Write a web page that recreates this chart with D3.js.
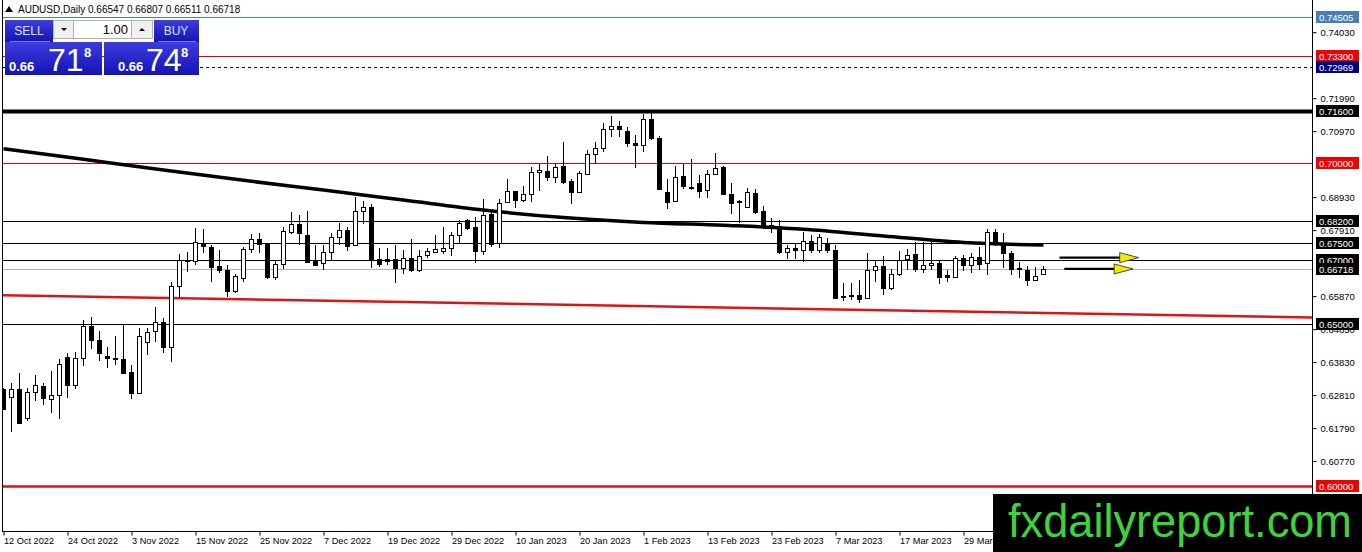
<!DOCTYPE html>
<html>
<head>
<meta charset="utf-8">
<script src="https://cdn.jsdelivr.net/npm/d3@7.9.0/dist/d3.min.js"></script>
<style>
html, body { margin: 0; padding: 0; background: #fff; overflow: hidden; }
svg { display: block; font-family: "Liberation Sans", Arial, sans-serif; }
</style>
</head>
<body>
<svg id="chart" width="1362" height="552"></svg>
<script>
// AUDUSD daily candles, 12 Oct 2022 onwards
const opens = [
  .6300,.6275,.6300,.6210,.6291,.6309,.6269,.6281,.6399,.6312,
  .6396,.6495,.6451,.6402,.6396,.6393,.6353,.6288,.6445,.6479,
  .6507,.6430,.6618,.6699,.6697,.6751,.6739,.6680,.6668,.6603,
  .6643,.6733,.6764,.6748,.6646,.6686,.6785,.6810,.6776,.6699,
  .6689,.6723,.6770,.6791,.6745,.6850,.6862,.6702,.6702,.6702,
  .6674,.6705,.6668,.6714,.6723,.6726,.6736,.6776,.6822,.6801,
  .6726,.6841,.6751,.6878,.6912,.6884,.6903,.6971,.6974,.6955,
  .6989,.6943,.6909,.6964,.7026,.7045,.7103,.7113,.7097,.7060,
  .7054,.7134,.7076,.6909,.6881,.6958,.6922,.6936,.6915,.6964,
  .6986,.6903,.6881,.6862,.6906,.6850,.6807,.6804,.6723,.6736,
  .6730,.6757,.6730,.6748,.6730,.6587,.6590,.6590,.6581,.6668,
  .6680,.6612,.6655,.6702,.6717,.6671,.6683,.6689,.6652,.6646,
  .6705,.6683,.6708,.6689,.6785,.6751,.6720,.6674,.6668,.6637,
  .66547];
const highs = [
  .6303,.6319,.6349,.6303,.6343,.6319,.6356,.6393,.6411,.6414,
  .6513,.6523,.6479,.6430,.6464,.6498,.6374,.6489,.6489,.6553,
  .6519,.6631,.6717,.6723,.6798,.6794,.6745,.6730,.6683,.6655,
  .6739,.6779,.6782,.6750,.6699,.6801,.6847,.6838,.6850,.6745,
  .6745,.6782,.6813,.6801,.6893,.6881,.6872,.6736,.6736,.6745,
  .6730,.6764,.6730,.6736,.6776,.6801,.6785,.6822,.6825,.6832,
  .6887,.6850,.6887,.6949,.6913,.6927,.6986,.6995,.7020,.6998,
  .7063,.6949,.6974,.7039,.7063,.7122,.7144,.7128,.7110,.7085,
  .7150,.7153,.7082,.6949,.6989,.6995,.7011,.6961,.6977,.7029,
  .6989,.6936,.6884,.6921,.6918,.6865,.6828,.6822,.6745,.6751,
  .6785,.6776,.6779,.6767,.6745,.6628,.6628,.6637,.6720,.6696,
  .6711,.6671,.6726,.6733,.6754,.6754,.6754,.6699,.6668,.6711,
  .6714,.6720,.6739,.6794,.6794,.6782,.6726,.6692,.6680,.6677,
  .66807];
const lows = [
  .6235,.6167,.6194,.6201,.6263,.6251,.6226,.6207,.6272,.6300,
  .6371,.6424,.6387,.6365,.6374,.6346,.6269,.6285,.6405,.6445,
  .6411,.6383,.6584,.6662,.6683,.6720,.6631,.6658,.6584,.6597,
  .6631,.6720,.6720,.6640,.6637,.6671,.6779,.6745,.6689,.6680,
  .6668,.6699,.6745,.6726,.6742,.6810,.6674,.6677,.6683,.6628,
  .6655,.6662,.6662,.6705,.6720,.6717,.6711,.6751,.6791,.6689,
  .6714,.6739,.6736,.6876,.6859,.6878,.6878,.6912,.6943,.6937,
  .6934,.6871,.6906,.6961,.6995,.7033,.7079,.7079,.7048,.6983,
  .7033,.7069,.6915,.6856,.6878,.6918,.6915,.6890,.6890,.6961,
  .6899,.6841,.6813,.6860,.6841,.6794,.6782,.6717,.6702,.6702,
  .6692,.6720,.6720,.6720,.6578,.6572,.6575,.6566,.6578,.6631,
  .6590,.6606,.6649,.6668,.6662,.6658,.6668,.6625,.6631,.6643,
  .6665,.6658,.6668,.6652,.6742,.6674,.6652,.6643,.6618,.6636,
  .66511];
const closes = [
  .6238,.6300,.6195,.6291,.6312,.6272,.6281,.6377,.6312,.6396,
  .6495,.6451,.6411,.6396,.6393,.6349,.6288,.6464,.6476,.6507,
  .6430,.6618,.6699,.6696,.6754,.6742,.6677,.6668,.6603,.6649,
  .6733,.6764,.6748,.6646,.6686,.6788,.6810,.6782,.6692,.6683,
  .6723,.6770,.6791,.6742,.6850,.6862,.6699,.6686,.6696,.6674,
  .6705,.6668,.6711,.6726,.6733,.6736,.6776,.6813,.6798,.6726,
  .6838,.6748,.6875,.6912,.6884,.6903,.6971,.6977,.6955,.6986,
  .6940,.6909,.6967,.7026,.7045,.7103,.7113,.7103,.7060,.7054,
  .7134,.7076,.6918,.6878,.6955,.6927,.6925,.6912,.6964,.6983,
  .6903,.6875,.6878,.6909,.6847,.6804,.6804,.6723,.6736,.6730,
  .6757,.6730,.6770,.6730,.6581,.6584,.6587,.6578,.6668,.6680,
  .6612,.6655,.6699,.6714,.6671,.6683,.6689,.6646,.6646,.6705,
  .6683,.6708,.6686,.6785,.6748,.6720,.6671,.6671,.6637,.6649,
  .66718];

// moving average, sampled every 10 bars
const maIndex = [0, 10, 20, 30, 40, 50, 60, 70, 80, 90, 100, 110, 120, 130];
const maValues = [.7043, .7010, .6977, .6945, .6915, .6884, .6853, .6830, .6815, .6806, .6794, .6773, .6753, .6745];

// red support trendline anchors
const trendIndex = [0, 130];
const trendValues = [.6590, .6535];

// horizontal levels
const levelPrices = [0.74505, 0.73300, 0.72969, 0.71600, 0.70000, 0.68200, 0.67500, 0.67000, 0.66718, 0.65000, 0.60000];

const priceTicks = [0.74030, 0.71990, 0.70970, 0.68930, 0.67910, 0.65870, 0.64850, 0.63830, 0.62810, 0.61790, 0.60770];

const dateIndex = [0, 8, 16, 24, 32, 40, 48, 56, 64, 72, 80, 88, 96, 104, 112, 120];
const dateLabels = ["12 Oct 2022", "24 Oct 2022", "3 Nov 2022", "15 Nov 2022", "25 Nov 2022", "7 Dec 2022",
  "19 Dec 2022", "29 Dec 2022", "10 Jan 2023", "20 Jan 2023", "1 Feb 2023", "13 Feb 2023",
  "23 Feb 2023", "7 Mar 2023", "17 Mar 2023", "29 Mar 2023"];

// yellow arrows: start bar, end bar, price
const arrowStart = [132.0, 132.6];
const arrowEnd = [141.9, 141.2];
const arrowPrice = [0.6706, 0.6671];

const W = 1362, H = 552;
const plotRight = 1312, plotBottom = 531;

let svg = d3.select('#chart');

let x = d3.scaleLinear().domain([0, 130]).range([3.5, 1043.5]);
let y = d3.scaleLinear().domain([0.60, 0.745]).range([486, 17]);

let defs = svg.append('defs');
defs.append('clipPath').attr('id', 'plot')
  .append('rect').attr('x', 2).attr('y', 0).attr('width', plotRight - 2).attr('height', plotBottom);
let grad = defs.append('linearGradient').attr('id', 'btn').attr('x1', 0).attr('y1', 0).attr('x2', 0).attr('y2', 1);
grad.append('stop').attr('offset', '0%').attr('stop-color', '#3c3ce0');
grad.append('stop').attr('offset', '100%').attr('stop-color', '#1414b4');

let plot = svg.append('g').attr('clip-path', 'url(#plot)');

// levels
const levelStyle = [
  { c: '#4a7fb4', w: 1 }, { c: '#e80000', w: 1 }, { c: '#000060', w: 1, dash: '3,3' },
  { c: '#000', w: 4 }, { c: '#e80000', w: 1 }, { c: '#000', w: 1 }, { c: '#000', w: 1 },
  { c: '#000', w: 1 }, { c: '#b4b4b4', w: 1 }, { c: '#000', w: 1 }, { c: '#e01010', w: 2.5 }
];
levelPrices.forEach((p, i) => {
  let yy = Math.round(y(p)) + 0.5;
  plot.append('line')
    .attr('x1', 2).attr('x2', plotRight).attr('y1', yy).attr('y2', yy)
    .attr('stroke', levelStyle[i].c).attr('stroke-width', levelStyle[i].w)
    .attr('stroke-dasharray', levelStyle[i].dash || null);
});

// trendline extended across the plot
let slope = (trendValues[1] - trendValues[0]) / (trendIndex[1] - trendIndex[0]);
let i0 = x.invert(2), i1 = x.invert(plotRight);
plot.append('line')
  .attr('x1', x(i0)).attr('y1', y(trendValues[0] + slope * (i0 - trendIndex[0])))
  .attr('x2', x(i1)).attr('y2', y(trendValues[0] + slope * (i1 - trendIndex[0])))
  .attr('stroke', '#dd1414').attr('stroke-width', 2.5);

// moving average
let maLine = d3.line().x(d => x(d[0])).y(d => y(d[1])).curve(d3.curveMonotoneX);
plot.append('path')
  .attr('d', maLine(maIndex.map((d, i) => [d, maValues[i]])))
  .attr('fill', 'none').attr('stroke', '#000').attr('stroke-width', 3.5);

// candles
let candles = opens.map((o, i) => ({ i, o, h: highs[i], l: lows[i], c: closes[i] }));
let cg = plot.append('g');
candles.forEach(d => {
  let cx = Math.round(x(d.i) - 0.5) + 0.5;
  cg.append('line')
    .attr('x1', cx).attr('x2', cx)
    .attr('y1', Math.round(y(d.h))).attr('y2', Math.round(y(d.l)))
    .attr('stroke', '#000').attr('stroke-width', 1);
  let top = Math.round(y(Math.max(d.o, d.c)));
  let bot = Math.round(y(Math.min(d.o, d.c)));
  cg.append('rect')
    .attr('x', cx - 2).attr('y', top + 0.5)
    .attr('width', 4).attr('height', Math.max(bot - top, 0.5))
    .attr('fill', d.c >= d.o ? '#fff' : '#000')
    .attr('stroke', '#000').attr('stroke-width', 1);
});

// arrows
arrowPrice.forEach((p, i) => {
  let yy = y(p);
  let xs = x(arrowStart[i]), xe = x(arrowEnd[i]);
  plot.append('line')
    .attr('x1', xs).attr('x2', xe - 16).attr('y1', yy).attr('y2', yy)
    .attr('stroke', '#000').attr('stroke-width', 2.2);
  plot.append('path')
    .attr('d', `M${xe - 19},${yy - 5}L${xe},${yy}L${xe - 19},${yy + 5}Z`)
    .attr('fill', '#f2ea00').attr('stroke', '#222').attr('stroke-width', 0.8);
});

// frame
svg.append('line').attr('x1', 2.5).attr('x2', 2.5).attr('y1', 0).attr('y2', plotBottom).attr('stroke', '#000');
svg.append('line').attr('x1', 2).attr('x2', plotRight).attr('y1', plotBottom + 0.5).attr('y2', plotBottom + 0.5).attr('stroke', '#000');

// price axis
let yAxis = svg.append('g')
  .attr('transform', `translate(${plotRight + 0.5},0)`)
  .call(d3.axisRight(y).tickValues(priceTicks).tickFormat(d3.format('.5f')).tickSize(4).tickSizeOuter(0));
yAxis.select('.domain').attr('d', `M0,0V${plotBottom}`).attr('stroke', '#000');
yAxis.selectAll('.tick line').attr('stroke', '#000');
yAxis.selectAll('text').attr('x', 8).attr('font-size', 9.5).attr('fill', '#000').attr('font-family', '"Liberation Sans", Arial, sans-serif');

// level labels
const boxFill = ['#4a7fb4', '#f00000', '#000080', '#000', '#f00000', '#000', '#000', '#000', '#000', '#000', '#f00000'];
levelPrices.forEach((p, i) => {
  let yy = Math.round(y(p));
  svg.append('rect').attr('x', 1316).attr('y', yy - 6).attr('width', 43).attr('height', 12).attr('fill', boxFill[i]);
  svg.append('text').attr('x', 1319).attr('y', yy + 4).attr('font-size', 9.5).attr('fill', '#fff')
    .text(d3.format('.5f')(p));
});

// date axis
let xAxis = svg.append('g')
  .attr('transform', `translate(0,${plotBottom + 0.5})`)
  .call(d3.axisBottom(x).tickValues(dateIndex).tickFormat((d, i) => dateLabels[i]).tickSize(4).tickSizeOuter(0));
xAxis.select('.domain').remove();
xAxis.selectAll('.tick line').attr('stroke', '#000');
xAxis.selectAll('text').attr('text-anchor', 'start').attr('x', 0).attr('dy', '0.71em').attr('y', 6)
  .attr('font-size', 9.2).attr('fill', '#000').attr('font-family', '"Liberation Sans", Arial, sans-serif');

// header
let last = opens.length - 1;
svg.append('path').attr('d', 'M5,12L9,6L13,12Z').attr('fill', '#000');
svg.append('text').attr('x', 18).attr('y', 13).attr('font-size', 10).attr('fill', '#000')
  .text(`AUDUSD,Daily  ${opens[last].toFixed(5)} ${highs[last].toFixed(5)} ${lows[last].toFixed(5)} ${closes[last].toFixed(5)}`);

// one-click trading panel
let pn = svg.append('g');
pn.append('rect').attr('x', 5).attr('y', 20).attr('width', 48).attr('height', 22).attr('fill', 'url(#btn)');
pn.append('rect').attr('x', 154).attr('y', 20).attr('width', 45).attr('height', 22).attr('fill', 'url(#btn)');
pn.append('rect').attr('x', 5).attr('y', 42).attr('width', 97).attr('height', 33).attr('fill', 'url(#btn)');
pn.append('rect').attr('x', 104).attr('y', 42).attr('width', 95).attr('height', 33).attr('fill', 'url(#btn)');
pn.append('line').attr('x1', 10).attr('x2', 50).attr('y1', 41.5).attr('y2', 41.5).attr('stroke', '#7a7ae8');
pn.append('line').attr('x1', 158).attr('x2', 196).attr('y1', 41.5).attr('y2', 41.5).attr('stroke', '#7a7ae8');
pn.append('rect').attr('x', 53.5).attr('y', 20.5).attr('width', 20).attr('height', 18).attr('fill', '#f0f0f0').attr('stroke', '#b0b0b0');
pn.append('rect').attr('x', 73.5).attr('y', 20.5).attr('width', 58).attr('height', 18).attr('fill', '#fff').attr('stroke', '#b0b0b0');
pn.append('rect').attr('x', 131.5).attr('y', 20.5).attr('width', 21).attr('height', 18).attr('fill', '#f0f0f0').attr('stroke', '#b0b0b0');
pn.append('path').attr('d', 'M61,28L67,28L64,31Z').attr('fill', '#000');
pn.append('path').attr('d', 'M139,31L145,31L142,28Z').attr('fill', '#000');
pn.append('text').attr('x', 128).attr('y', 34).attr('text-anchor', 'end').attr('font-size', 13).attr('fill', '#000').text('1.00');
pn.append('text').attr('x', 29).attr('y', 35).attr('text-anchor', 'middle').attr('font-size', 12).attr('fill', '#dde0ff').text('SELL');
pn.append('text').attr('x', 176).attr('y', 35).attr('text-anchor', 'middle').attr('font-size', 12).attr('fill', '#dde0ff').text('BUY');
const quotes = [{ x: 9, bx: 48, sx: 84, big: '71' }, { x: 118, bx: 146, sx: 181, big: '74' }];
quotes.forEach(q => {
  pn.append('text').attr('x', q.x).attr('y', 71).attr('font-size', 13).attr('font-weight', 'bold').attr('fill', '#fff').text('0.66');
  pn.append('text').attr('x', q.bx).attr('y', 71).attr('font-size', 32).attr('fill', '#fff').text(q.big);
  pn.append('text').attr('x', q.sx).attr('y', 57).attr('font-size', 13).attr('font-weight', 'bold').attr('fill', '#fff').text('8');
});

// watermark
svg.append('rect').attr('x', 993).attr('y', 494).attr('width', W - 993).attr('height', H - 494).attr('fill', '#000');
svg.append('text').attr('x', 1008).attr('y', 537).attr('font-size', 46).attr('fill', '#3cd43c')
  .attr('textLength', 344).attr('lengthAdjust', 'spacingAndGlyphs').text('fxdailyreport.com');
</script>
</body>
</html>
